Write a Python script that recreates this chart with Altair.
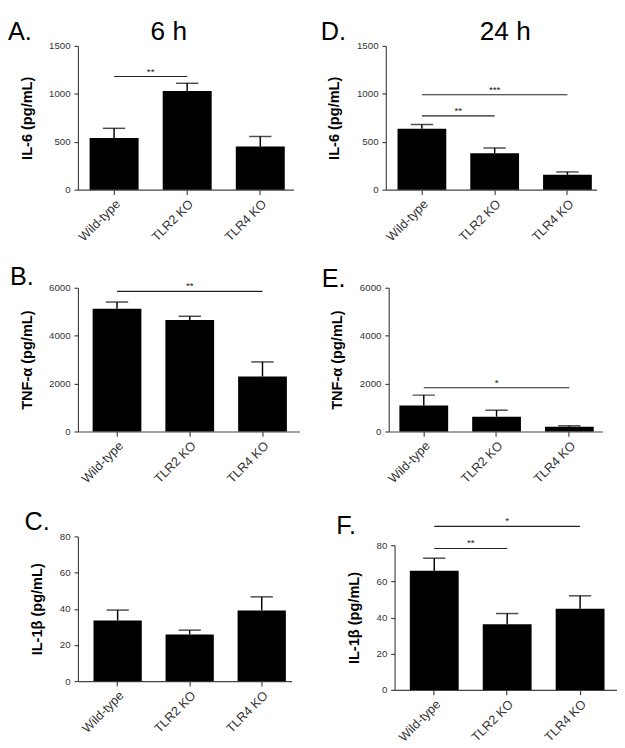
import altair as alt
import pandas as pd

FONT = "Liberation Sans"
PAD_INNER = 0.33

categories = ["Wild-type", "TLR2 KO", "TLR4 KO"]

# 6 h
il6_6h_mean = [540, 1030, 450]
il6_6h_sem = [100, 80, 105]
tnf_6h_mean = [5120, 4650, 2300]
tnf_6h_sem = [285, 160, 605]
il1b_6h_mean = [33.5, 25.8, 39.1]
il1b_6h_sem = [5.8, 2.4, 7.5]

# 24 h
il6_24h_mean = [636, 380, 155]
il6_24h_sem = [44, 55, 30]
tnf_24h_mean = [1090, 620, 200]
tnf_24h_sem = [430, 270, 40]
il1b_24h_mean = [65.8, 36.3, 44.9]
il1b_24h_sem = [7.0, 5.9, 7.1]

# significance bars: (from, to, height, label)
sig_A = [("Wild-type", "TLR2 KO", 1180, "**")]
sig_B = [("Wild-type", "TLR4 KO", 5850, "**")]
sig_C = []
sig_D = [("Wild-type", "TLR2 KO", 770, "**"), ("Wild-type", "TLR4 KO", 990, "***")]
sig_E = [("Wild-type", "TLR4 KO", 1830, "*")]
sig_F = [("Wild-type", "TLR2 KO", 78.2, "**"), ("Wild-type", "TLR4 KO", 90.4, "*")]

il6_ticks = [0, 500, 1000, 1500]
tnf_ticks = [0, 2000, 4000, 6000]
il1b_ticks = [0, 20, 40, 60, 80]


def make_panel(mean, sem, sig, ymax, yticks, ytitle, letter, lx, ly,
               width, height, po, align, yrange=None, heading=None, hx=None):
    df = pd.DataFrame({"cat": categories, "mean": mean,
                       "top": [m + s for m, s in zip(mean, sem)]})
    xscale = alt.Scale(domain=categories, paddingInner=PAD_INNER,
                       paddingOuter=po, align=align)
    step = width / (len(categories) - PAD_INNER + 2 * po)
    xaxis = alt.Axis(title=None, labelAngle=-45, labelAlign="right",
                     labelBaseline="top", labelFontSize=13,
                     labelColor="#333", labelFont=FONT, tickSize=5,
                     labelPadding=3, domainColor="#444", tickColor="#444",
                     domainWidth=1.2, tickWidth=1.2, grid=False,
                     labelOverlap=False)
    ys = dict(domain=[0, ymax], nice=False, zero=True)
    if yrange is not None:
        ys["range"] = yrange
    yscale = alt.Scale(**ys)
    yaxis = alt.Axis(title=ytitle, values=yticks, format="d", tickSize=4,
                     labelFontSize=10, labelColor="#333", labelFont=FONT,
                     labelPadding=4, labelOverlap=False, labelFlush=False,
                     titleFont=FONT, titleFontSize=15,
                     titleFontWeight="bold", titleColor="#000",
                     titlePadding=15, domainColor="#444", tickColor="#444",
                     domainWidth=1.2, tickWidth=1.2, grid=False)
    x = alt.X("cat:N", scale=xscale, axis=xaxis)
    base = alt.Chart(df)
    layers = [
        base.mark_bar(color="black").encode(
            x=x, y=alt.Y("mean:Q", scale=yscale, axis=yaxis)),
        base.mark_rule(color="black", strokeWidth=1.5).encode(
            x=x, y=alt.Y("mean:Q", scale=yscale, axis=yaxis), y2="top:Q"),
        base.mark_tick(color="black", size=23, thickness=1.5).encode(
            x=x, y=alt.Y("top:Q", scale=yscale, axis=yaxis)),
    ]
    for (a, b, h, lab) in sig:
        i, j = categories.index(a), categories.index(b)
        sdf = pd.DataFrame({"from": [a], "to": [b], "h": [h], "lab": [lab]})
        sc = alt.Chart(sdf)
        layers.append(sc.mark_rule(color="#222", strokeWidth=1.1).encode(
            x=alt.X("from:N", scale=xscale, axis=xaxis),
            x2="to:N",
            y=alt.Y("h:Q", scale=yscale, axis=yaxis)))
        layers.append(sc.mark_text(fontSize=10, font=FONT, color="#222",
                                   baseline="alphabetic", dy=-2,
                                   dx=step * (j - i) / 2).encode(
            x=alt.X("from:N", scale=xscale, axis=xaxis),
            y=alt.Y("h:Q", scale=yscale, axis=yaxis),
            text="lab:N"))
    layers.append(alt.Chart(pd.DataFrame({"t": [letter]})).mark_text(
        fontSize=26, font=FONT, color="#000", align="left",
        baseline="alphabetic").encode(
        text="t:N", x=alt.value(lx), y=alt.value(ly)))
    if heading:
        layers.append(alt.Chart(pd.DataFrame({"t": [heading]})).mark_text(
            fontSize=27, font=FONT, color="#000", align="center",
            baseline="alphabetic").encode(
            text="t:N", x=alt.value(hx), y=alt.value(ly)))
    return alt.layer(*layers).properties(width=width, height=height)


pA = make_panel(il6_6h_mean, il6_6h_sem, sig_A, 1500, il6_ticks, "IL-6 (pg/mL)",
                "A.", -72, -6, 222, 148, 0.14, 0.57, heading="6 h", hx=93.5)
pD = make_panel(il6_24h_mean, il6_24h_sem, sig_D, 1500, il6_ticks, "IL-6 (pg/mL)",
                "D.", -67, -6, 217, 148, 0.113, 0.71, heading="24 h", hx=123)
pB = make_panel(tnf_6h_mean, tnf_6h_sem, sig_B, 6000, tnf_ticks, "TNF-α (pg/mL)",
                "B.", -70, -3, 228, 148, 0.187, 0.54)
pE = make_panel(tnf_24h_mean, tnf_24h_sem, sig_E, 6000, tnf_ticks, "TNF-α (pg/mL)",
                "E.", -69, -1, 220, 148, 0.133, 0.55)
pC = make_panel(il1b_6h_mean, il1b_6h_sem, sig_C, 80, il1b_ticks, "IL-1β (pg/mL)",
                "C.", -55, -7, 220, 149, 0.148, 0.73)
pF = make_panel(il1b_24h_mean, il1b_24h_sem, sig_F, 80, il1b_ticks, "IL-1β (pg/mL)",
                "F.", -60, -2, 229, 158, 0.19, 0.55, yrange=[158, 9])

row1 = alt.hconcat(pA, pD, spacing=28)
row2 = alt.hconcat(pB, pE, spacing=23)
row3 = alt.hconcat(pC, pF, spacing=46)

top_rows = alt.vconcat(row1, row2, spacing=21)

chart = alt.vconcat(top_rows, row3, spacing=24).properties(
    padding=0
).configure_view(stroke=None)

chart.save("out.html", embed_options={"renderer": "svg", "actions": False})
